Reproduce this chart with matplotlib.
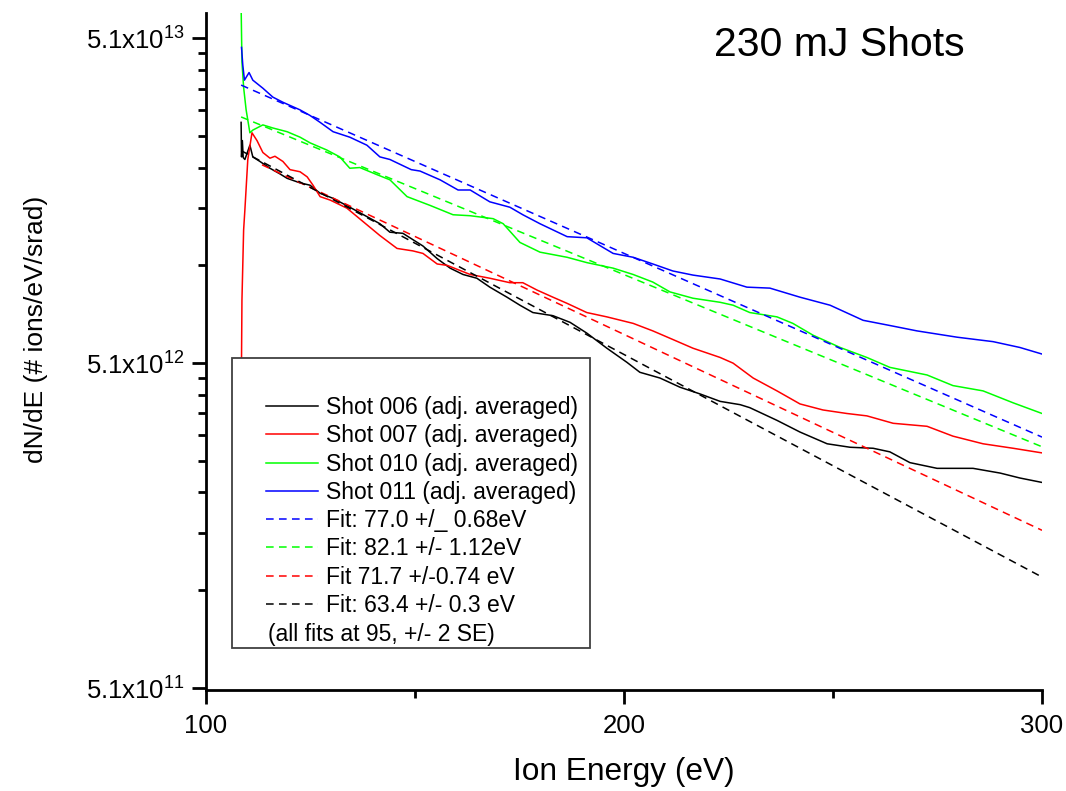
import matplotlib
matplotlib.use("Agg")
import matplotlib.pyplot as plt
from matplotlib.patches import Rectangle
import numpy as np

plt.rcParams['font.family'] = ['Liberation Sans', 'DejaVu Sans']
plt.rcParams['mathtext.fontset'] = 'custom'
plt.rcParams['mathtext.rm'] = 'Liberation Sans'
plt.rcParams['mathtext.it'] = 'Liberation Sans:italic'
plt.rcParams['mathtext.bf'] = 'Liberation Sans:bold'

SCALE = 1e12  # values below are in units of 1e12 ions/eV/srad

# Shot 006 (black)
e006 = [108.4, 108.5, 108.7, 108.9, 109.3, 110.5, 111.2, 112.9, 115.3, 117.7, 119.4, 122.5,
        124.9, 127.3, 130.4, 134.4, 141.6, 144.0, 147.1, 151.9, 155.3, 158.4, 161.5, 164.8,
        167.9, 172.0, 175.1, 178.2, 183.0, 187.1, 191.1, 195.9, 200.7, 203.8, 208.6, 213.4,
        218.2, 223.0, 227.8, 230.1, 236.6, 242.1, 248.6, 254.1, 259.6, 263.6, 268.4, 274.9,
        283.5, 290.0, 294.7, 300.0]
v006 = [28.1, 22.0, 24.7, 21.9, 21.6, 23.9, 22.0, 21.3, 20.3, 19.5, 18.9, 18.3,
        18.0, 17.0, 16.4, 15.4, 13.7, 12.9, 12.8, 11.7, 10.7, 10.0, 9.56, 9.31,
        8.74, 8.14, 7.69, 7.30, 7.14, 6.81, 6.31, 5.67, 5.13, 4.78, 4.59, 4.30,
        4.10, 3.89, 3.80, 3.72, 3.40, 3.13, 2.88, 2.81, 2.79, 2.72, 2.52, 2.42,
        2.42, 2.34, 2.26, 2.19]

# Shot 007 (red)
e007 = [108.4, 108.6, 109.0, 109.3, 110.0, 111.0, 112.2, 113.6, 115.3, 116.5, 118.4, 120.1,
        122.5, 124.2, 125.6, 127.3, 129.7, 133.7, 141.6, 145.7, 149.5, 151.9, 155.3, 157.7,
        163.2, 167.9, 172.7, 175.8, 179.2, 183.0, 186.4, 191.1, 195.9, 202.2, 206.9, 211.7,
        216.5, 223.0, 226.1, 230.9, 236.6, 242.1, 247.6, 253.3, 258.1, 264.4, 272.5, 278.7,
        285.9, 293.1, 300.0]
v007 = [3.5, 7.97, 13.1, 15.1, 21.6, 26.1, 24.7, 22.7, 21.8, 22.1, 21.3, 20.1,
        19.8, 19.1, 18.0, 16.6, 16.2, 15.3, 12.6, 11.5, 11.3, 11.1, 10.3, 10.2,
        9.56, 9.31, 9.02, 9.02, 8.56, 8.14, 7.79, 7.30, 7.08, 6.76, 6.41, 6.03,
        5.67, 5.31, 5.10, 4.59, 4.19, 3.82, 3.66, 3.57, 3.51, 3.33, 3.26, 3.04,
        2.88, 2.79, 2.70]

# Shot 010 (green)
e010 = [108.4, 108.6, 109.0, 109.6, 110.5, 111.2, 113.6, 116.0, 119.4, 122.5, 124.9, 128.9,
        132.0, 134.4, 136.8, 140.9, 144.0, 148.1, 153.6, 159.1, 163.2, 168.7, 171.1, 175.1,
        179.9, 186.4, 191.1, 197.4, 202.2, 206.9, 211.0, 216.5, 223.0, 226.1, 230.1, 236.6,
        240.4, 245.2, 251.7, 258.1, 263.6, 272.5, 278.7, 285.9, 293.1, 300.0]
v010 = [64.4, 43.1, 36.0, 30.7, 26.1, 26.6, 27.6, 27.0, 26.3, 25.3, 24.3, 23.1,
        22.0, 20.3, 20.4, 19.4, 18.7, 16.6, 15.6, 14.6, 14.5, 14.2, 13.7, 12.0,
        11.2, 10.8, 10.4, 10.0, 9.56, 9.06, 8.45, 8.08, 7.85, 7.69, 7.30, 7.08,
        6.76, 6.22, 5.70, 5.31, 4.95, 4.69, 4.35, 4.19, 3.85, 3.57]

# Shot 011 (blue)
e011 = [108.5, 108.8, 109.2, 110.3, 111.2, 113.6, 116.0, 118.4, 122.5, 124.9, 127.3, 130.4,
        134.4, 138.5, 141.6, 144.0, 149.1, 151.2, 156.0, 160.3, 163.2, 167.9, 172.7, 175.8,
        179.9, 186.4, 191.1, 197.4, 202.2, 206.9, 211.7, 216.5, 223.0, 229.4, 234.9, 242.1,
        249.3, 257.2, 263.6, 270.1, 279.7, 288.3, 294.7, 300.0]
v011 = [47.8, 42.2, 37.9, 40.0, 37.9, 35.8, 33.6, 32.4, 30.7, 29.5, 28.1, 26.3,
        25.3, 23.9, 22.0, 21.6, 20.1, 19.9, 18.7, 17.4, 17.4, 16.0, 15.4, 14.6,
        13.7, 12.5, 12.4, 11.1, 10.8, 10.3, 9.80, 9.52, 9.26, 8.74, 8.68, 8.14,
        7.69, 6.91, 6.66, 6.41, 6.13, 5.94, 5.70, 5.44]

# exponential fits (straight on log axis): start / end energies and values
fit_labels = ['Fit: 77.0 +/_ 0.68eV', 'Fit: 82.1 +/- 1.12eV',
              'Fit 71.7 +/-0.74 eV', 'Fit: 63.4 +/- 0.3 eV']
fit_colors = ['#0000ff', '#00ff00', '#ff0000', '#000000']
fit_e = [[108.4, 300.0], [108.4, 300.0], [113.4, 300.0], [108.4, 300.0]]
fit_v = [[36.6, 3.02], [29.2, 2.82], [20.8, 1.56], [23.0, 1.12]]

shot_labels = ['Shot 006 (adj. averaged)', 'Shot 007 (adj. averaged)',
               'Shot 010 (adj. averaged)', 'Shot 011 (adj. averaged)']
shot_colors = ['#000000', '#ff0000', '#00ff00', '#0000ff']
shot_e = [e006, e007, e010, e011]
shot_v = [v006, v007, v010, v011]

fig = plt.figure(figsize=(10.66, 7.91), dpi=100)
ax = fig.add_axes([206/1066, 1-690/791, 836/1066, 677/791])

handles = []
for e, v, c, lab in zip(shot_e, shot_v, shot_colors, shot_labels):
    h, = ax.plot(e, np.array(v)*SCALE, color=c, lw=1.1, label=lab)
    handles.append(h)
for e, v, c, lab in zip(fit_e, fit_v, fit_colors, fit_labels):
    h, = ax.plot(e, np.array(v)*SCALE, color=c, lw=1.1, ls=(0, (5, 3.5)), label=lab)
    handles.append(h)

ax.set_yscale('log')
ax.set_xlim(100, 300)
ax.set_ylim(5.03e11, 6.1e13)

majors = [5.1e11, 5.1e12, 5.1e13]
ax.set_yticks(majors)
ax.set_yticklabels([r'5.1x10$\mathregular{^{11}}$', r'5.1x10$\mathregular{^{12}}$',
                    r'5.1x10$\mathregular{^{13}}$'])
ax.set_yticks([k*m for m in majors[:2] for k in range(2, 10)], minor=True)
ax.yaxis.set_minor_formatter(plt.NullFormatter())
ax.set_xticks([100, 200, 300])
ax.set_xticks([150, 250], minor=True)

for s in ['top', 'right']:
    ax.spines[s].set_visible(False)
for s in ['left', 'bottom']:
    ax.spines[s].set_linewidth(2)
ax.tick_params(which='major', direction='out', length=10, width=2, labelsize=18.5)
ax.tick_params(which='minor', direction='out', length=6, width=2)
ax.tick_params(axis='y', which='major', pad=5)
ax.tick_params(axis='x', which='major', pad=7)

ax.set_xlabel('Ion Energy (eV)', fontsize=22.8, labelpad=14)
fig.text(36/1066, 1-329/791, 'dN/dE (# ions/eV/srad)', rotation=90,
         ha='center', va='center', fontsize=19)
fig.text(839/1066, 1-45/791, '230 mJ Shots', ha='center', va='center', fontsize=29.5)

# legend box
box = Rectangle((26/836, 42/677), 358/836, 290/677, transform=ax.transAxes,
                facecolor='white', edgecolor='#404040', lw=1.3, zorder=4)
ax.add_patch(box)
leg = ax.legend(handles=handles, loc='upper left', bbox_to_anchor=(60/836, 294/677),
                frameon=False, fontsize=16.5, handlelength=2.26, handletextpad=0.35,
                labelspacing=0.23, borderpad=0, borderaxespad=0)
leg.set_zorder(5)
ax.text(62/836, 56/677, '(all fits at 95, +/- 2 SE)', transform=ax.transAxes,
        fontsize=16.5, va='center', ha='left', zorder=6)

fig.savefig('out.png', dpi=100)
